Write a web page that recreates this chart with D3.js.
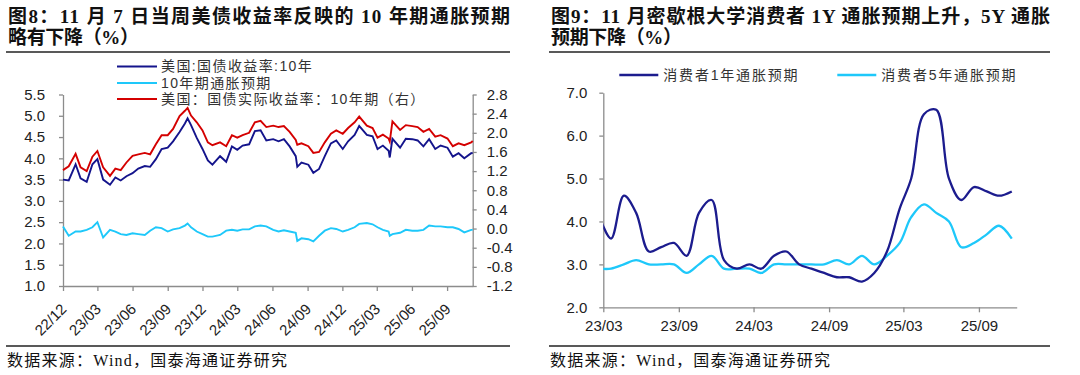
<!DOCTYPE html>
<html>
<head>
<meta charset="utf-8">
<script src="https://cdn.jsdelivr.net/npm/d3@7"></script>
<style>
  body { margin: 0; background: #fff; }
  svg text { font-family: 'Liberation Sans', Arial, 'Noto Sans CJK SC', sans-serif; }
</style>
</head>
<body>
<svg id="svg1" width="1080" height="375"></svg>
<script>
// 图8 data (semi-monthly readings)

let yieldDates = [
  '2022-12-01', '2022-12-16', '2023-01-03', '2023-01-16', '2023-02-01', '2023-02-16',
  '2023-03-01', '2023-03-16', '2023-04-03', '2023-04-17', '2023-05-01', '2023-05-16',
  '2023-06-01', '2023-06-16', '2023-07-03', '2023-07-17', '2023-08-01', '2023-08-16',
  '2023-09-01', '2023-09-15', '2023-10-02', '2023-10-16', '2023-10-23', '2023-11-01',
  '2023-11-16', '2023-12-01', '2023-12-15', '2023-12-27', '2024-01-16', '2024-02-01',
  '2024-02-16', '2024-03-01', '2024-03-15', '2024-04-01', '2024-04-16', '2024-05-01',
  '2024-05-16', '2024-06-03', '2024-06-17', '2024-07-01', '2024-07-16', '2024-08-01',
  '2024-08-05', '2024-08-16', '2024-09-03', '2024-09-16', '2024-10-01', '2024-10-16',
  '2024-11-01', '2024-11-15', '2024-12-02', '2024-12-16', '2025-01-02', '2025-01-14',
  '2025-02-03', '2025-02-18', '2025-03-03', '2025-03-17', '2025-04-01', '2025-04-04',
  '2025-04-11', '2025-05-01', '2025-05-16', '2025-06-02', '2025-06-16', '2025-07-01',
  '2025-07-16', '2025-08-01', '2025-08-15', '2025-09-02', '2025-09-16', '2025-10-01',
  '2025-10-16', '2025-11-03', '2025-11-07'
]

let us10y = [
  3.50, 3.48, 3.86, 3.53, 3.45, 3.86,
  3.98, 3.50, 3.38, 3.55, 3.48, 3.58,
  3.65, 3.76, 3.82, 3.80, 3.98, 4.22,
  4.25, 4.40, 4.62, 4.82, 4.94, 4.78,
  4.48, 4.22, 3.95, 3.85, 4.05, 3.92,
  4.28, 4.20, 4.30, 4.33, 4.64, 4.66,
  4.42, 4.45, 4.40, 4.45, 4.28, 4.05,
  3.80, 3.90, 3.85, 3.66, 3.75, 4.05,
  4.35, 4.42, 4.22, 4.40, 4.55, 4.76,
  4.55, 4.52, 4.22, 4.30, 4.18, 4.02,
  4.46, 4.25, 4.46, 4.45, 4.42, 4.28,
  4.45, 4.22, 4.30, 4.25, 4.04, 4.12,
  4.00, 4.12, 4.13
]

let realYield = [
  1.22, 1.30, 1.56, 1.28, 1.20, 1.50,
  1.62, 1.28, 1.10, 1.25, 1.22, 1.38,
  1.52, 1.55, 1.58, 1.55, 1.76, 1.95,
  1.95, 2.08, 2.35, 2.46, 2.52, 2.36,
  2.22, 2.05, 1.80, 1.74, 1.80, 1.72,
  1.95, 1.90, 1.95, 2.00, 2.22, 2.25,
  2.12, 2.15, 2.12, 2.14, 2.02, 1.85,
  1.75, 1.78, 1.72, 1.58, 1.60, 1.80,
  1.98, 2.05, 1.98, 2.10, 2.22, 2.34,
  2.15, 2.10, 1.90, 1.96, 1.88, 1.82,
  2.24, 2.06, 2.16, 2.14, 2.12, 2.02,
  2.08, 1.92, 1.95, 1.88, 1.72, 1.78,
  1.74, 1.80, 1.83
]

let breakeven = [
  2.40, 2.18, 2.28, 2.28, 2.32, 2.38,
  2.50, 2.14, 2.32, 2.28, 2.22, 2.20,
  2.24, 2.22, 2.20, 2.30, 2.38, 2.36,
  2.28, 2.33, 2.36, 2.42, 2.47, 2.38,
  2.28, 2.22, 2.16, 2.16, 2.20, 2.30,
  2.32, 2.30, 2.33, 2.33, 2.40, 2.42,
  2.40, 2.32, 2.28, 2.31, 2.28, 2.25,
  2.06, 2.12, 2.10, 2.05, 2.18, 2.30,
  2.36, 2.34, 2.28, 2.32, 2.38, 2.46,
  2.48, 2.45, 2.38, 2.32, 2.28, 2.18,
  2.22, 2.25, 2.32, 2.30, 2.30, 2.32,
  2.42, 2.40, 2.40, 2.38, 2.38, 2.34,
  2.26, 2.32, 2.32
]

let leftTicks = [1.0, 1.5, 2.0, 2.5, 3.0, 3.5, 4.0, 4.5, 5.0, 5.5]
let rightTicks = [-1.2, -0.8, -0.4, 0.0, 0.4, 0.8, 1.2, 1.6, 2.0, 2.4, 2.8]
let yieldTickLabels = ['22/12', '23/03', '23/06', '23/09', '23/12', '24/03', '24/06', '24/09', '24/12', '25/03', '25/06', '25/09']
let yieldNames = ['美国:国债收益率:10年', '10年期通胀预期', '美国：国债实际收益率：10年期（右）']

// 图9 data (monthly, University of Michigan)

let michMonths = [
  '2023-02', '2023-03', '2023-04', '2023-05', '2023-06', '2023-07', '2023-08', '2023-09',
  '2023-10', '2023-11', '2023-12', '2024-01', '2024-02', '2024-03', '2024-04', '2024-05',
  '2024-06', '2024-07', '2024-08', '2024-09', '2024-10', '2024-11', '2024-12', '2025-01',
  '2025-02', '2025-03', '2025-04', '2025-05', '2025-06', '2025-07', '2025-08', '2025-09',
  '2025-10', '2025-11'
]
let mich1y = [
  4.1, 3.6, 4.6, 4.2, 3.3, 3.4, 3.5, 3.2,
  4.2, 4.5, 3.1, 2.9, 3.0, 2.9, 3.2, 3.3,
  3.0, 2.9, 2.8, 2.7, 2.7, 2.6, 2.8, 3.3,
  4.3, 5.0, 6.5, 6.6, 5.0, 4.5, 4.8, 4.7,
  4.6, 4.7
]
let mich5y = [
  2.9, 2.9, 3.0, 3.1, 3.0, 3.0, 3.0, 2.8,
  3.0, 3.2, 2.9, 2.9, 2.9, 2.8, 3.0, 3.0,
  3.0, 3.0, 3.0, 3.1, 3.0, 3.2, 3.0, 3.2,
  3.5, 4.1, 4.4, 4.2, 4.0, 3.4, 3.5, 3.7,
  3.9, 3.6
]
let michTicks = [2.0, 3.0, 4.0, 5.0, 6.0, 7.0]
let michTickLabels = ['23/03', '23/09', '24/03', '24/09', '25/03', '25/09']
let michNames = ['消费者1年通胀预期', '消费者5年通胀预期']

let navy = '#14148c'
let red = '#d40000'
let cyan = '#1ec8fa'
let axisGray = '#8c8c8c'
let textGray = '#333'

let parseDay = d3.timeParse('%Y-%m-%d')
let parseMonth = d3.timeParse('%Y-%m')
let parseTick = d3.timeParse('%y/%m')

let svg = d3.select('#svg1')

// titles, rules, sources

let titles = [
  {x: 8, w: 502, l1: '图8：11 月 7 日当周美债收益率反映的 10 年期通胀预期', l2: '略有下降（%）'},
  {x: 551, w: 499, l1: '图9：11 月密歇根大学消费者 1Y 通胀预期上升，5Y 通胀', l2: '预期下降（%）'}
]

titles.forEach(t => {
  let g = svg.append('g')
  g.append('text')
    .attr('x', t.x)
    .attr('y', 23)
    .attr('textLength', t.w)
    .attr('lengthAdjust', 'spacing')
    .text(t.l1)
  g.append('text')
    .attr('x', t.x)
    .attr('y', 44)
    .attr('textLength', 131)
    .attr('lengthAdjust', 'spacing')
    .text(t.l2)
  g.selectAll('text')
    .style('font-family', "'Liberation Serif', 'Noto Sans CJK SC', serif")
    .style('font-weight', 'bold')
    .style('font-size', '19px')
    .style('fill', '#111')
  g.append('line')
    .attr('x1', t.x - 2).attr('x2', t.x + t.w)
    .attr('y1', 52).attr('y2', 52)
    .style('stroke', '#222').style('stroke-width', 1.5)
  g.append('line')
    .attr('x1', t.x - 2).attr('x2', t.x + t.w)
    .attr('y1', 346).attr('y2', 346)
    .style('stroke', '#222').style('stroke-width', 1.5)
  g.append('text')
    .attr('x', t.x - 1)
    .attr('y', 366)
    .attr('textLength', 280)
    .attr('lengthAdjust', 'spacing')
    .text('数据来源：Wind，国泰海通证券研究')
    .style('font-family', "'Liberation Serif', 'Noto Sans CJK SC', serif")
    .style('font-size', '16px')
    .style('fill', '#111')
})

// 图8

let rows = yieldDates.map((d, i) => ({date: parseDay(d), n: us10y[i], r: realYield[i], b: breakeven[i]}))

let xL = d3.scaleTime()
  .domain([parseDay('2022-12-01'), parseDay('2025-11-07')])
  .range([63, 472.7])
let yL = d3.scaleLinear().domain([1, 5.5]).range([286, 94.5])
let yR = d3.scaleLinear().domain([-1.2, 2.8]).range([286, 94.5])

let chart1 = svg.append('g').attr('id', 'chart1')

chart1.append('g')
  .attr('transform', 'translate(63,0)')
  .call(d3.axisLeft(yL).tickValues(leftTicks).tickFormat(d => d.toFixed(1)).tickSize(4).tickSizeOuter(0).tickPadding(14))

chart1.append('g')
  .attr('transform', 'translate(472.7,0)')
  .call(d3.axisRight(yR).tickValues(rightTicks).tickFormat(d => d.toFixed(1)).tickSize(4).tickSizeOuter(0).tickPadding(10))

chart1.append('g')
  .attr('class', 'xaxis')
  .attr('transform', 'translate(0,286)')
  .call(d3.axisBottom(xL).tickValues(yieldTickLabels.map(parseTick)).tickFormat(d3.timeFormat('%y/%m')).tickSize(5).tickSizeOuter(0))
  .selectAll('text')
  .attr('x', 0).attr('y', 0).attr('dy', 0)
  .attr('text-anchor', 'end')
  .attr('transform', 'translate(4,24) rotate(-45)')

let lines1 = [
  {key: 'n', color: navy, y: yL},
  {key: 'b', color: cyan, y: yL},
  {key: 'r', color: red, y: yR}
]

chart1.append('g')
  .selectAll('path')
  .data(lines1)
  .join('path')
  .attr('d', s => d3.line(d => xL(d.date), d => s.y(d[s.key]))(rows))
  .style('stroke', s => s.color)
  .style('stroke-width', 1.9)
  .style('fill', 'none')

let legend1 = chart1.append('g')
  .selectAll('g')
  .data(yieldNames)
  .join('g')
  .attr('transform', (d, i) => `translate(117,${[66.5, 83, 99][i]})`)
legend1.append('line')
  .attr('x1', 0).attr('x2', 40)
  .style('stroke', (d, i) => lines1[i].color)
  .style('stroke-width', 2)
legend1.append('text')
  .attr('x', 44)
  .attr('dy', '0.35em')
  .text(d => d)
  .style('font-size', '14px')
  .style('letter-spacing', '1.4px')
  .style('fill', textGray)

// 图9

let mrows = michMonths.map((m, i) => ({date: d3.timeDay.offset(parseMonth(m), 19), a: mich1y[i], b: mich5y[i]}))

let xM = d3.scaleTime()
  .domain([parseDay('2023-03-01'), parseDay('2025-12-02')])
  .range([603.3, 1016.7])
let yM = d3.scaleLinear().domain([2, 7]).range([307.3, 92.7])

let chart2 = svg.append('g').attr('id', 'chart2')

chart2.append('clipPath')
  .attr('id', 'clip2')
  .append('rect')
  .attr('x', 603.3).attr('y', 80)
  .attr('width', 1016.7 - 603.3).attr('height', 230)

chart2.append('g')
  .attr('transform', 'translate(603.3,0)')
  .call(d3.axisLeft(yM).tickValues(michTicks).tickFormat(d => d.toFixed(1)).tickSize(4).tickSizeOuter(0).tickPadding(12))

chart2.append('g')
  .attr('transform', 'translate(0,307.3)')
  .call(d3.axisBottom(xM).tickValues(michTickLabels.map(parseTick)).tickFormat(d3.timeFormat('%y/%m')).tickSize(5).tickSizeOuter(0))
  .selectAll('text')
  .attr('y', 24).attr('dy', 0)

let lines2 = [
  {key: 'a', color: '#1c1c8e'},
  {key: 'b', color: cyan}
]

chart2.append('g')
  .attr('clip-path', 'url(#clip2)')
  .selectAll('path')
  .data(lines2.slice().reverse())
  .join('path')
  .attr('d', s => d3.line(d => xM(d.date), d => yM(d[s.key])).curve(d3.curveCatmullRom.alpha(0.5))(mrows))
  .style('stroke', s => s.color)
  .style('stroke-width', 2.3)
  .style('fill', 'none')

let legend2 = chart2.append('g')
  .selectAll('g')
  .data(michNames)
  .join('g')
  .attr('transform', (d, i) => `translate(${[619.3, 837.3][i]},75)`)
legend2.append('line')
  .attr('x1', 0).attr('x2', 39)
  .style('stroke', (d, i) => lines2[i].color)
  .style('stroke-width', 2.3)
legend2.append('text')
  .attr('x', 44)
  .attr('dy', '0.35em')
  .text(d => d)
  .style('font-size', '14px')
  .style('letter-spacing', '1.8px')
  .style('fill', textGray)

// shared axis styling
svg.selectAll('.domain, .tick line')
  .style('stroke', axisGray)
  .style('stroke-width', 1.3)
svg.selectAll('.tick text')
  .style('font-size', '15px')
  .style('fill', '#222')
</script>
</body>
</html>
